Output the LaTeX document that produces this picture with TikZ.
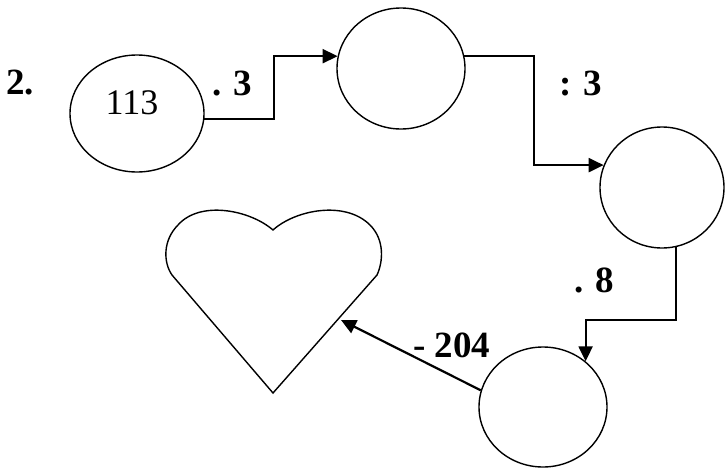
\documentclass[tikz,border=0pt]{standalone}
\usepackage{fontspec}
\setmainfont{Liberation Serif}
\usetikzlibrary{arrows.meta,shapes.geometric}
\begin{document}
\begin{tikzpicture}[x=1pt,y=-1pt,
  oval/.style={draw,ellipse,line width=1.4pt,inner sep=0pt},
  conn/.style={line width=2.2pt,-{Triangle[length=15pt,width=14pt]}},
  lbl/.style={anchor=base west,inner sep=0pt,font=\fontsize{37}{42}\selectfont\bfseries},
  txt/.style={anchor=base,inner sep=0pt,font=\fontsize{36}{42}\selectfont}]
\useasboundingbox (0,0) rectangle (726,469);
\node[oval,minimum width=134pt,minimum height=117pt] (e1) at (137,113.5) {};
\node[oval,minimum width=128pt,minimum height=121pt] (e2) at (401,68.5) {};
\node[oval,minimum width=124pt,minimum height=121pt] (e3) at (662,187.5) {};
\node[oval,minimum width=128pt,minimum height=120pt] (e4) at (543,407) {};
\node[txt] (n113) at (132,114) {113};
\node[lbl] (num) at (6,94) {2.};
\node[lbl] (l1) at (212,95) {. 3};
\node[lbl] (l2) at (559,95) {: 3};
\node[lbl] (l3) at (574,292) {. 8};
\node[lbl] (l4) at (413,357) {- 204};
% heart
\draw[line width=1.4pt,line join=miter] (273,230) .. controls (295,210) and (345,200) .. (370,225)
  .. controls (385,240) and (383,262) .. (377,275) -- (273,393) -- (172,275)
  .. controls (163,262) and (163,240) .. (178,225)
  .. controls (200,200) and (250,210) .. (273,230) -- cycle;
\coordinate (k1) at (274,0);
\coordinate (k2) at (534,0);
\coordinate (k3) at (0,320);
\coordinate (h) at (341,320);
\draw[conn] (e1.-5) -- (e1.-5 -| k1) |- (e2.169);
\draw[conn] (e2.11) -- (e2.11 -| k2) |- (e3.159);
\draw[conn] (e3.-77) -- (e3.-77 |- k3) -| (e4.47);
\draw[conn] (e4.165) -- (h);
\end{tikzpicture}
\end{document}
